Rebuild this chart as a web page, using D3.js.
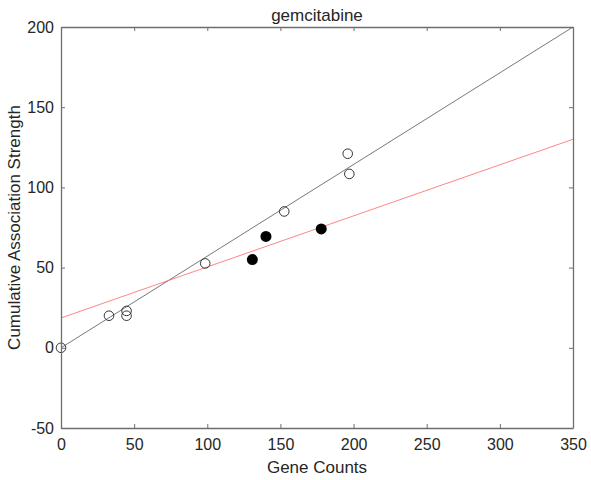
<!DOCTYPE html>
<html>
<head>
<meta charset="utf-8">
<script src="https://cdn.jsdelivr.net/npm/d3@7"></script>
<style>
  body { margin: 0; background: #fff; }
  text { font-family: "Liberation Sans", Arial, sans-serif; fill: #262626; }
</style>
</head>
<body>
<svg id="chart" width="591" height="480"></svg>
<script>
const title = 'gemcitabine'
const xLabel = 'Gene Counts'
const yLabel = 'Cumulative Association Strength'

const xTicks = [0, 50, 100, 150, 200, 250, 300, 350]
const yTicks = [-50, 0, 50, 100, 150, 200]

// open circles
const openX = [0, 32.8, 44.8, 44.8, 98.6, 152.6, 196, 197.1]
const openY = [0, 20, 23, 20, 52.6, 85, 121, 108.4]

// filled circles
const filledX = [130.8, 140.1, 177.9]
const filledY = [55, 69.4, 74.1]

// fit lines [x0, y0, x1, y1]
const blackFit = [0, 0, 350, 200]
const redFit = [0, 18.6, 350, 130]

const svg = d3.select('#chart')

const margin = { left: 61, top: 27, right: 18, bottom: 52 }
const W = 591, H = 480

const x = d3.scaleLinear().domain([0, 350]).range([margin.left, W - margin.right])
const y = d3.scaleLinear().domain([-50, 200]).range([H - margin.bottom, margin.top])

const axisColor = '#6e6e6e'

// lines
function fitLine(f, color) {
  svg.append('line')
      .attr('x1', x(f[0])).attr('y1', y(f[1]))
      .attr('x2', x(f[2])).attr('y2', y(f[3]))
      .attr('stroke', color)
      .attr('stroke-width', 0.8)
}
fitLine(blackFit, '#555')
fitLine(redFit, '#ff6666')

// points
svg.append('g').selectAll('circle')
    .data(d3.zip(openX, openY))
    .join('circle')
    .attr('cx', d => x(d[0]))
    .attr('cy', d => y(d[1]))
    .attr('r', 4.8)
    .attr('fill', 'none')
    .attr('stroke', '#333')
    .attr('stroke-width', 1)

svg.append('g').selectAll('circle')
    .data(d3.zip(filledX, filledY))
    .join('circle')
    .attr('cx', d => x(d[0]))
    .attr('cy', d => y(d[1]))
    .attr('r', 5.5)
    .attr('fill', '#000')

// axes
const tickLen = 4
const fmt = d => String(d)
const axBottom = svg.append('g')
    .attr('transform', `translate(0,${y(-50)})`)
    .call(d3.axisBottom(x).tickValues(xTicks).tickFormat(fmt).tickSizeInner(-tickLen).tickSizeOuter(0).tickPadding(8))
const axTop = svg.append('g')
    .attr('transform', `translate(0,${y(200)})`)
    .call(d3.axisTop(x).tickValues(xTicks).tickSizeInner(-tickLen).tickSizeOuter(0).tickFormat(''))
const axLeft = svg.append('g')
    .attr('transform', `translate(${x(0)},0)`)
    .call(d3.axisLeft(y).tickValues(yTicks).tickFormat(fmt).tickSizeInner(-tickLen).tickSizeOuter(0).tickPadding(7))
const axRight = svg.append('g')
    .attr('transform', `translate(${x(350)},0)`)
    .call(d3.axisRight(y).tickValues(yTicks).tickSizeInner(-tickLen).tickSizeOuter(0).tickFormat(''))

for (const a of [axBottom, axTop, axLeft, axRight]) {
  a.select('.domain').attr('stroke', axisColor).attr('stroke-width', 1.3)
  a.selectAll('.tick line').attr('stroke', axisColor).attr('stroke-width', 1)
  a.selectAll('.tick text')
      .attr('fill', '#333')
      .style('font-size', '16px')
      .style('font-family', '"Liberation Sans", Arial, sans-serif')
}
axBottom.selectAll('.tick text').attr('dy', '0.88em')

// title and labels
svg.append('text')
    .attr('x', (x(0) + x(350)) / 2)
    .attr('y', 21)
    .attr('text-anchor', 'middle')
    .style('font-size', '17px')
    .text(title)

svg.append('text')
    .attr('x', (x(0) + x(350)) / 2)
    .attr('y', 473)
    .attr('text-anchor', 'middle')
    .style('font-size', '17px')
    .text(xLabel)

svg.append('text')
    .attr('transform', `translate(20,${(y(-50) + y(200)) / 2}) rotate(-90)`)
    .attr('text-anchor', 'middle')
    .style('font-size', '17px')
    .text(yLabel)
</script>
</body>
</html>
